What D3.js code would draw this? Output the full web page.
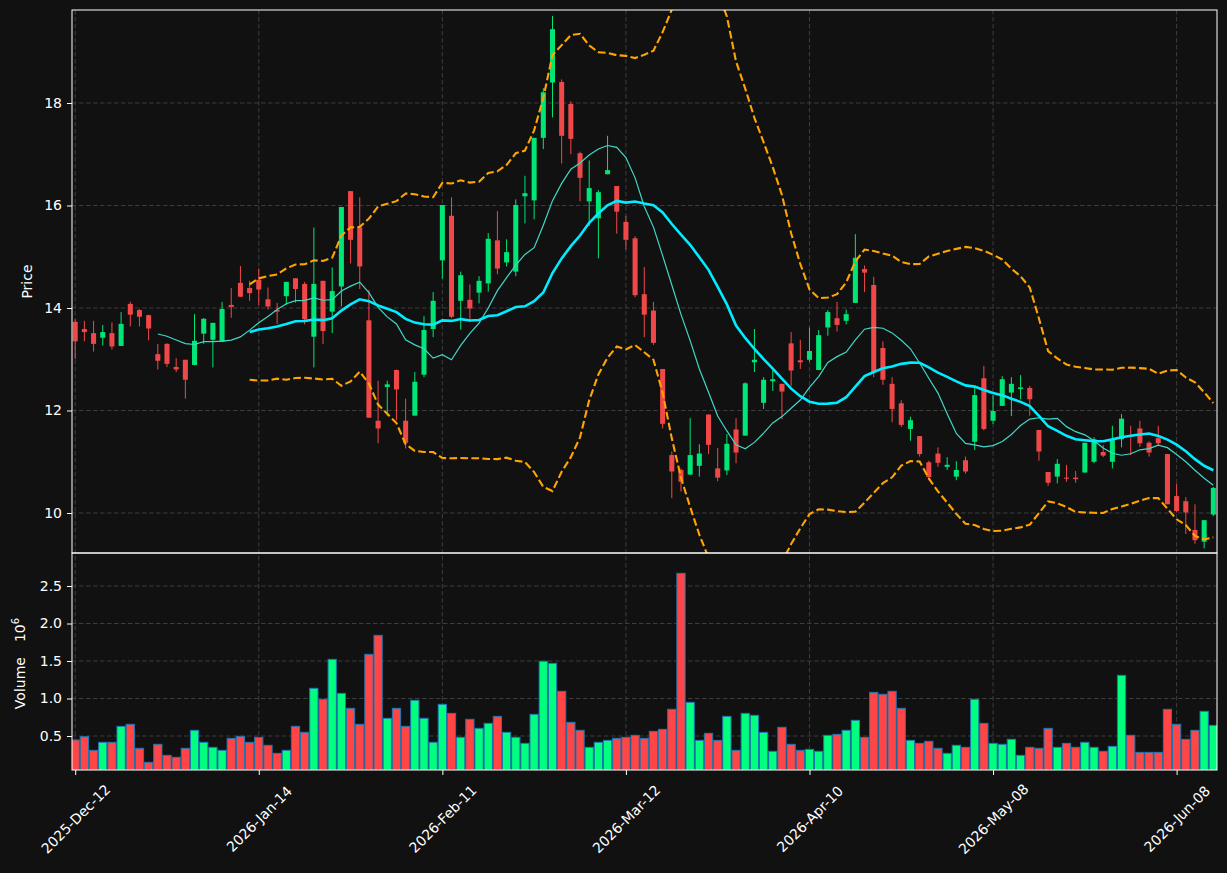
<!DOCTYPE html>
<html>
<head>
<meta charset="utf-8">
<script src="https://cdn.jsdelivr.net/npm/d3@7"></script>
<style>
  body { margin: 0; background: #111111; }
  text { font-family: "DejaVu Sans", sans-serif; }
</style>
</head>
<body>
<svg id="chart" width="1227" height="873"></svg>
<script>
// one entry per trading day (bar index 0..124)
const openP = [13.73,13.59,13.51,13.42,13.51,13.26,14.08,13.96,13.86,13.10,13.30,12.85,12.99,12.89,13.50,13.38,13.34,14.06,14.49,14.39,
  14.55,14.17,13.96,14.23,14.58,14.47,13.44,14.53,13.93,14.42,16.28,15.57,13.76,11.80,12.46,12.79,11.80,11.90,12.70,13.59,
  14.93,15.80,14.14,14.16,14.30,14.48,15.32,14.89,14.71,16.18,16.10,17.32,18.40,18.41,17.98,17.02,16.08,15.75,16.61,16.38,
  15.68,15.36,14.27,13.95,12.81,11.13,10.84,10.75,10.92,11.92,10.87,10.83,11.63,11.51,12.94,12.15,12.57,12.52,13.31,12.98,
  12.99,12.79,13.62,13.80,13.75,14.10,14.76,14.45,13.22,12.52,12.14,11.64,11.50,10.99,11.16,10.90,10.71,11.03,11.39,12.63,
  11.80,12.09,12.35,12.42,12.44,11.62,10.80,10.71,10.69,10.69,10.79,11.00,11.19,11.00,11.44,11.51,11.65,11.37,11.46,11.15,
  10.33,10.23,9.67,9.44,9.97];
const highP = [13.78,13.75,13.75,13.67,13.72,13.92,14.12,13.98,13.87,13.30,13.31,13.02,12.99,13.88,13.80,13.71,14.12,14.39,14.82,14.53,
  14.77,14.40,14.10,14.51,14.58,14.51,15.57,14.53,14.79,15.97,16.28,16.16,14.35,12.58,12.58,12.80,12.23,12.75,13.84,14.31,
  16.01,16.16,14.71,14.46,14.62,15.46,15.89,15.34,16.12,16.58,17.32,18.29,19.70,18.46,18.03,17.05,16.88,16.30,17.36,16.38,
  15.80,15.40,14.80,14.12,12.81,11.20,10.87,11.85,11.34,11.93,11.27,11.54,11.85,12.55,13.59,12.65,12.81,12.52,13.53,13.38,
  13.62,13.57,13.96,14.12,13.97,15.44,14.83,14.61,13.35,12.65,12.20,11.88,11.50,11.02,11.28,11.09,11.01,11.10,12.46,12.87,
  12.30,12.67,12.65,12.69,12.48,11.62,10.80,11.05,10.94,10.82,11.37,11.48,11.33,11.70,11.93,11.70,11.80,11.40,11.70,11.15,
  10.57,10.31,10.17,9.86,10.51];
const lowP = [13.00,13.35,13.15,13.27,13.19,13.26,13.64,13.64,13.37,12.80,12.85,12.75,12.23,12.88,13.30,12.84,13.34,13.81,14.22,14.14,
  14.06,13.97,13.69,14.06,14.10,13.68,12.84,13.30,13.51,14.03,14.87,14.37,11.86,11.36,11.90,11.81,11.26,11.90,12.65,13.43,
  14.57,13.80,13.58,13.73,14.09,14.32,14.66,14.81,14.62,15.65,15.73,17.10,17.72,16.82,17.00,16.08,15.60,14.97,16.61,15.45,
  15.14,14.21,13.43,13.28,11.65,10.29,10.42,10.74,10.71,11.15,10.62,10.74,10.97,11.51,12.75,12.03,12.38,11.83,12.48,12.81,
  12.95,12.79,13.46,13.54,13.68,14.10,14.31,12.65,12.50,11.77,11.68,11.41,11.10,10.64,10.90,10.84,10.64,10.77,11.23,11.61,
  11.74,12.09,11.89,12.22,11.90,11.02,10.53,10.58,10.61,10.59,10.79,10.97,11.09,10.87,11.28,11.13,11.29,11.10,11.32,10.17,
  10.01,9.59,9.40,9.31,9.94];
const closeP = [13.35,13.53,13.30,13.53,13.25,13.69,13.87,13.83,13.60,12.97,12.91,12.80,12.60,13.36,13.79,13.71,13.98,14.02,14.22,14.29,
  14.36,14.03,13.93,14.51,14.37,13.78,14.47,13.55,14.33,15.97,15.33,14.81,11.86,11.65,12.51,12.41,11.37,12.56,13.57,14.14,
  16.01,13.83,14.64,13.99,14.53,15.35,14.77,15.09,16.01,16.24,17.32,18.21,19.44,17.36,17.30,16.54,16.34,16.26,16.69,15.88,
  15.33,14.25,13.87,13.32,11.74,10.81,10.61,11.13,11.16,11.33,10.69,11.35,11.18,12.53,12.99,12.60,12.61,12.37,12.78,12.94,
  13.16,13.47,13.92,13.67,13.88,14.98,14.69,12.74,12.60,12.03,11.72,11.81,11.15,10.70,10.98,10.94,10.84,10.81,12.30,11.64,
  11.99,12.61,12.52,12.45,12.22,11.20,10.59,10.96,10.67,10.66,11.37,11.44,11.12,11.42,11.84,11.49,11.36,11.18,11.36,10.17,
  10.04,10.01,9.47,9.86,10.49];
// volume in millions
const volume = [0.447,0.491,0.309,0.416,0.416,0.629,0.656,0.336,0.149,0.389,0.242,0.216,0.336,0.576,0.416,0.349,0.309,0.469,0.496,0.416,
  0.482,0.376,0.269,0.309,0.629,0.549,1.136,0.989,1.522,1.069,0.869,0.656,1.589,1.842,0.736,0.869,0.629,0.976,0.736,0.416,
  0.922,0.802,0.482,0.722,0.602,0.669,0.762,0.549,0.482,0.402,0.789,1.496,1.469,1.096,0.682,0.576,0.349,0.416,0.442,0.469,
  0.482,0.509,0.469,0.562,0.589,0.856,2.669,0.949,0.442,0.536,0.442,0.762,0.309,0.802,0.776,0.549,0.296,0.616,0.389,0.309,
  0.322,0.296,0.509,0.522,0.576,0.709,0.482,1.082,1.056,1.096,0.869,0.442,0.402,0.429,0.336,0.269,0.376,0.349,0.989,0.669,
  0.402,0.389,0.456,0.242,0.349,0.336,0.602,0.349,0.402,0.349,0.416,0.349,0.296,0.362,1.309,0.509,0.282,0.282,0.282,0.856,
  0.656,0.456,0.576,0.829,0.642];

const tickIdx = [0, 20, 40, 60, 80, 100, 120];
const tickLabels = ['2025-Dec-12', '2026-Jan-14', '2026-Feb-11', '2026-Mar-12', '2026-Apr-10', '2026-May-08', '2026-Jun-08'];
const priceTicks = [10, 12, 14, 16, 18];
const volTicks = [0.5, 1.0, 1.5, 2.0, 2.5];

const UP = '#00e676', DOWN = '#f04848';
const VUP = '#00ff7f', VDOWN = '#ff4545';
const GRID = '#3d3d3d';

const svg = d3.select('#chart');
const L = 72, R = 1217, PT = 10, PB = 553, VB = 770;

const x = d3.scaleLinear().domain([-0.35, 124.4]).range([L, R]);
const yP = d3.scaleLinear().domain([9.2195, 19.8146]).range([PB, PT]);
const yV = d3.scaleLinear().domain([0.0467, 2.94]).range([VB, PB]);
const step = x(1) - x(0);

const bars = d3.range(closeP.length).map(i => ({
  i, o: openP[i], h: highP[i], l: lowP[i], c: closeP[i], v: volume[i], up: closeP[i] >= openP[i]
}));

// rolling mean / bollinger from closes
function sma(n) {
  const out = [];
  for (let i = n - 1; i < closeP.length; i++) {
    out.push({ i, v: d3.mean(closeP.slice(i - n + 1, i + 1)) });
  }
  return out;
}
function band(n, k) {
  const out = [];
  for (let i = n - 1; i < closeP.length; i++) {
    const w = closeP.slice(i - n + 1, i + 1);
    const m = d3.mean(w), s = d3.deviation(w);
    out.push({ i, up: m + k * s, lo: m - k * s });
  }
  return out;
}

const defs = svg.append('defs');
defs.append('clipPath').attr('id', 'clipP').append('rect')
  .attr('x', L).attr('y', PT).attr('width', R - L).attr('height', PB - PT);
defs.append('clipPath').attr('id', 'clipV').append('rect')
  .attr('x', L).attr('y', PB).attr('width', R - L).attr('height', VB - PB);

// grid
const grid = svg.append('g').attr('stroke', GRID).attr('stroke-dasharray', '4.5,2.5').attr('stroke-width', 1);
tickIdx.forEach(t => {
  grid.append('line').attr('x1', x(t)).attr('x2', x(t)).attr('y1', PT).attr('y2', VB);
});
priceTicks.forEach(t => {
  grid.append('line').attr('x1', L).attr('x2', R).attr('y1', yP(t)).attr('y2', yP(t));
});
volTicks.forEach(t => {
  grid.append('line').attr('x1', L).attr('x2', R).attr('y1', yV(t)).attr('y2', yV(t));
});

// candles
const pg = svg.append('g').attr('clip-path', 'url(#clipP)');
const cw = step * 0.55;
pg.selectAll('line.wick').data(bars).join('line')
  .attr('x1', d => x(d.i)).attr('x2', d => x(d.i))
  .attr('y1', d => yP(d.h)).attr('y2', d => yP(d.l))
  .attr('stroke', d => d.up ? UP : DOWN).attr('stroke-width', 1);
pg.selectAll('rect.body').data(bars).join('rect')
  .attr('x', d => x(d.i) - cw / 2).attr('width', cw)
  .attr('y', d => yP(Math.max(d.o, d.c)))
  .attr('height', d => Math.max(1, Math.abs(yP(d.o) - yP(d.c))))
  .attr('fill', d => d.up ? UP : DOWN);

// moving averages and bands
const line = d3.line().x(d => x(d.i)).y(d => yP(d.v));
const bb = band(20, 2);
pg.append('path').datum(bb.map(d => ({ i: d.i, v: d.up })))
  .attr('d', line).attr('fill', 'none').attr('stroke', '#ffa500')
  .attr('stroke-width', 2.1).attr('stroke-dasharray', '7.7,3.3');
pg.append('path').datum(bb.map(d => ({ i: d.i, v: d.lo })))
  .attr('d', line).attr('fill', 'none').attr('stroke', '#ffa500')
  .attr('stroke-width', 2.1).attr('stroke-dasharray', '7.7,3.3');
pg.append('path').datum(sma(10))
  .attr('d', line).attr('fill', 'none').attr('stroke', '#40d8c8').attr('stroke-width', 1.2);
pg.append('path').datum(sma(20))
  .attr('d', line).attr('fill', 'none').attr('stroke', '#00ecff').attr('stroke-width', 2.6);

// volume
const vg = svg.append('g').attr('clip-path', 'url(#clipV)');
const vw = step * 0.9;
vg.selectAll('rect').data(bars).join('rect')
  .attr('x', d => x(d.i) - vw / 2).attr('width', vw)
  .attr('y', d => yV(d.v)).attr('height', d => VB + 2 - yV(d.v))
  .attr('fill', d => d.up ? VUP : VDOWN)
  .attr('stroke', '#1f77b4').attr('stroke-width', 1);

// frames
svg.append('rect').attr('x', L).attr('y', PT).attr('width', R - L).attr('height', PB - PT)
  .attr('fill', 'none').attr('stroke', '#ffffff').attr('stroke-width', 1);
svg.append('rect').attr('x', L).attr('y', PB).attr('width', R - L).attr('height', VB - PB)
  .attr('fill', 'none').attr('stroke', '#ffffff').attr('stroke-width', 1);

// axes
function styleAxis(g) {
  g.select('.domain').remove();
  g.selectAll('.tick line').attr('stroke', '#ffffff');
  g.selectAll('.tick text').attr('fill', '#ffffff').style('font-size', '14px')
    .style('font-family', '"DejaVu Sans", sans-serif');
}
svg.append('g').attr('transform', `translate(${L},0)`)
  .call(d3.axisLeft(yP).tickValues(priceTicks).tickSize(5).tickPadding(5).tickFormat(d3.format('d')))
  .call(styleAxis);
svg.append('g').attr('transform', `translate(${L},0)`)
  .call(d3.axisLeft(yV).tickValues(volTicks).tickSize(5).tickPadding(5).tickFormat(d3.format('.1f')))
  .call(styleAxis);
const xa = svg.append('g').attr('transform', `translate(0,${VB})`)
  .call(d3.axisBottom(x).tickValues(tickIdx).tickSize(5).tickFormat((d, k) => tickLabels[k]))
  .call(styleAxis);
// labels centred under their tick, turned 45 degrees
xa.selectAll('.tick text')
  .attr('text-anchor', 'middle').attr('y', 0).attr('dy', '0.35em')
  .attr('transform', 'translate(0,49) rotate(-45)');

// axis titles
svg.append('text').attr('transform', `translate(32,${(PT + PB) / 2}) rotate(-90)`)
  .attr('text-anchor', 'middle').attr('fill', '#ffffff').style('font-size', '14px').text('Price');
const vt = svg.append('text').attr('transform', `translate(25,${(PB + VB) / 2 + 2}) rotate(-90)`)
  .attr('text-anchor', 'middle').attr('fill', '#ffffff').style('font-size', '14px');
vt.append('tspan').text('Volume');
vt.append('tspan').attr('dx', 15).text('10');
vt.append('tspan').attr('dy', -6).style('font-size', '10px').text('6');
</script>
</body>
</html>
